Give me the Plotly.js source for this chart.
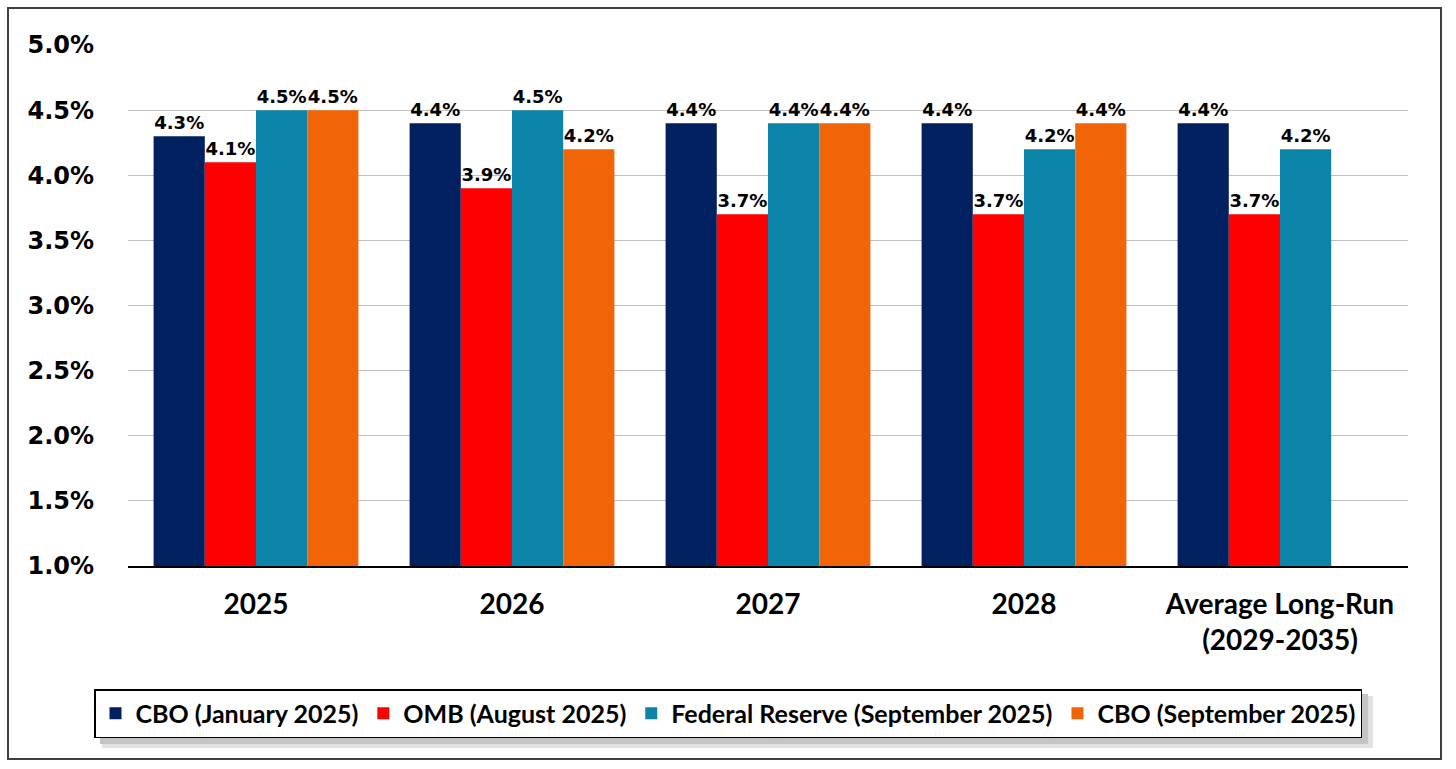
<!DOCTYPE html>
<html>
<head>
<meta charset="utf-8">
<script src="https://cdn.plot.ly/plotly-3.0.1.min.js"></script>
<style>
html,body{margin:0;padding:0;background:#fff;}
#chart{width:1456px;height:769px;}
</style>
</head>
<body>
<div id="chart"></div>
<script>
const categories = ["2025", "2026", "2027", "2028", "Average Long-Run<br>(2029-2035)"];
const seriesNames = ["CBO (January 2025)", "OMB (August 2025)", "Federal Reserve (September 2025)", "CBO (September 2025)"];
const cboJan2025 = [4.3, 4.4, 4.4, 4.4, 4.4];
const ombAug2025 = [4.1, 3.9, 3.7, 3.7, 3.7];
const fedSep2025 = [4.5, 4.5, 4.4, 4.2, 4.2];
const cboSep2025 = [4.5, 4.2, 4.4, 4.4, null];
const seriesColors = ["#002060", "#FF0000", "#0C84A8", "#F26408"];
const yTicks = [1.0, 1.5, 2.0, 2.5, 3.0, 3.5, 4.0, 4.5, 5.0];

const seriesValues = [cboJan2025, ombAug2025, fedSep2025, cboSep2025];
const labelFont = {family: "DejaVu Sans, Verdana, sans-serif", size: 18, color: "#000", weight: 700};

const traces = seriesValues.map((vals, i) => ({
  type: "bar",
  name: seriesNames[i],
  x: categories,
  y: vals,
  marker: {color: seriesColors[i], line: {width: 0}},
  text: vals.map(v => v == null ? "" : v.toFixed(1) + "%"),
  textposition: "outside",
  textfont: labelFont,
  cliponaxis: false,
  hoverinfo: "x+y+name"
}));

const L = 128, T = 45, W = 1280, H = 521;
function px(x){ return (x - L) / W; }
function py(y){ return (T + H - y) / H; }

const layout = {
  width: 1456, height: 769,
  margin: {l: L, r: 1456 - L - W, t: T, b: 769 - T - H},
  paper_bgcolor: "#fff",
  plot_bgcolor: "#fff",
  barmode: "group",
  bargap: 0.2,
  bargroupgap: 0,
  showlegend: true,
  legend: {
    orientation: "h",
    xref: "container", yref: "container",
    x: 0.5, xanchor: "center",
    y: 1 - 689/769, yanchor: "top",
    bgcolor: "#fff",
    bordercolor: "#000",
    borderwidth: 1.5,
    font: {family: "Lato, Noto Sans, sans-serif", size: 25, color: "#000", weight: 700},
    traceorder: "normal",
    itemwidth: 30
  },
  xaxis: {
    type: "category",
    showgrid: false,
    showline: true,
    linecolor: "#000",
    linewidth: 2,
    ticks: "",
    tickfont: {family: "Lato, Noto Sans, sans-serif", size: 28, color: "#000", weight: 700},
    ticklabelstandoff: 12,
    fixedrange: true
  },
  yaxis: {
    range: [1, 5],
    tickvals: yTicks,
    ticktext: yTicks.map(v => v.toFixed(1) + "%"),
    showgrid: true,
    gridcolor: "#BFBFBF",
    gridwidth: 1.3,
    zeroline: false,
    showline: false,
    ticks: "",
    tickfont: {family: "DejaVu Sans, Verdana, sans-serif", size: 24, color: "#000", weight: 700},
    ticklabelstandoff: 33,
    fixedrange: true
  },
  shapes: [
    {type: "rect", xref: "paper", yref: "paper", layer: "below",
     x0: px(8), x1: px(1441), y0: py(759), y1: py(8),
     line: {color: "#404040", width: 2}, fillcolor: "rgba(0,0,0,0)"},
    {type: "rect", xref: "paper", yref: "paper", layer: "below",
     x0: px(102), x1: px(1373), y0: py(748), y1: py(696),
     line: {width: 0}, fillcolor: "#E2E2E2"},
    {type: "rect", xref: "paper", yref: "paper", layer: "below",
     x0: px(100), x1: px(1368), y0: py(744), y1: py(694),
     line: {width: 0}, fillcolor: "#C4C4C4"}
  ]
};

Plotly.newPlot("chart", traces, layout, {displayModeBar: false, responsive: false});
</script>
</body>
</html>
